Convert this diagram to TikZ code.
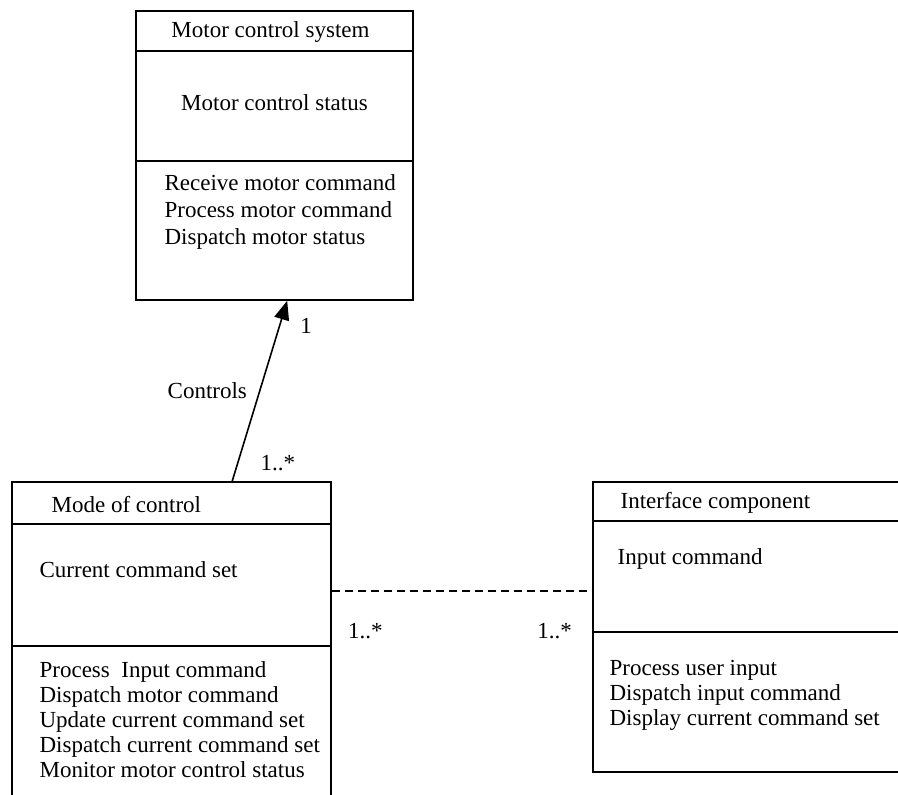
\documentclass[tikz,border=0pt]{standalone}
\usepackage{fontspec}
\setmainfont{Liberation Serif}
\usetikzlibrary{arrows.meta,positioning,calc,fit}
\tikzset{
  >={Triangle[length=9.5pt,width=7.5pt]},
  classbox/.style={draw,line width=0.8pt,inner sep=0pt},
  txt/.style={inner sep=0pt,font=\fontsize{11.5}{#1}\selectfont,align=left,anchor=west},
  txt/.default=13.5pt,
  mult/.style={inner sep=0pt,font=\fontsize{11.5}{13.5}\selectfont},
  flow/.style={->,line width=0.8pt},
  assoc/.style={line width=0.8pt,dash pattern=on 4pt off 2.5pt},
}
\begin{document}
\begin{tikzpicture}[x=0.5pt,y=-0.5pt]
  \useasboundingbox (0,0) rectangle (898,795);
  \clip (0,0) rectangle (898,795);
  % class boxes and their compartments
  \node[classbox,fit={(136,11) (413,300)}] (mcs) {};
  \node[classbox,fit={(12,482) (331,815)}] (moc) {};
  \node[classbox,fit={(593,482) (915,772)}] (ifc) {};
  \foreach \n/\a/\b in {mcs/41/151,moc/43/165,ifc/40/151}
    \draw[line width=0.8pt] ($(\n.north west)+(0,\a)$) -- ($(\n.north east)+(0,\a)$)
      ($(\n.north west)+(0,\b)$) -- ($(\n.north east)+(0,\b)$);

  \node[txt,anchor=center] (mcsname) at ($(mcs.north)+(-4,22)$) {Motor control system};
  \node[txt,anchor=center] (mcsattr) at ($(mcs.north)+(0,92)$) {Motor control status};
  \node[txt] (mcsops) at ($(mcs.north west)+(29,202)$) {Receive motor command\\Process motor command\\Dispatch motor status};

  \node[txt] (mocname) at ($(moc.north west)+(40,23)$) {Mode of control};
  \node[txt] (mocattr) at ($(moc.north west)+(28,88)$) {Current command set};
  \node[txt=12.5pt] (mocops) at ($(moc.north west)+(28,238)$) {Process\ \ Input command\\Dispatch motor command\\Update current command set\\Dispatch current command set\\Monitor motor control status};

  \node[txt] (ifcname) at ($(ifc.north west)+(28,22)$) {Interface component};
  \node[txt] (ifcattr) at ($(ifc.north west)+(25,78)$) {Input command};
  \node[txt=12.5pt] (ifcops) at ($(ifc.north west)+(17,214)$) {Process user input\\Dispatch input command\\Display current command set};

  % associations
  \draw[flow] ($(moc.north west)+(221,0)$) --
    node[mult,left=6pt] (ctl) {Controls}
    node[mult,pos=0.86,right=10pt] (mtop) {1}
    node[mult,pos=0.1,right=11pt] (mbot) {1..*}
    ($(mcs.south west)+(152,0)$);

  \coordinate (mocport) at ($(moc.north east)+(0,110)$);
  \coordinate (ifcport) at ($(ifc.north west)+(0,110)$);
  \draw[assoc] (mocport) -- (ifcport);
  \node[mult,anchor=west] (mleft) at ($(mocport)+(16,40)$) {1..*};
  \node[mult,anchor=east] (mright) at ($(ifcport)+(-20,40)$) {1..*};
\end{tikzpicture}
\end{document}
